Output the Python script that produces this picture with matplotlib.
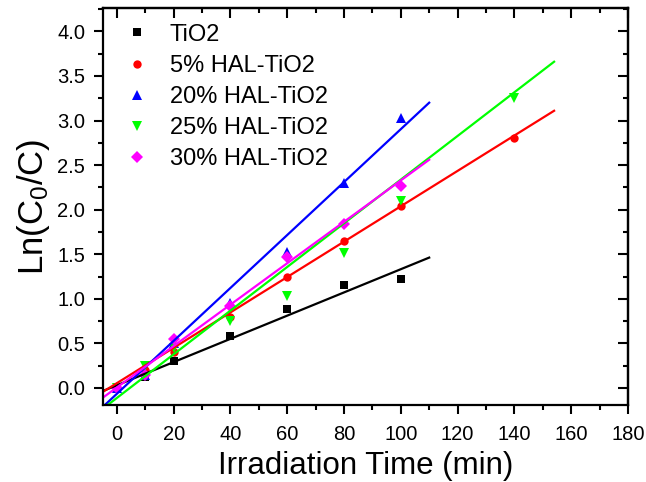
import numpy as np
import matplotlib
matplotlib.use("Agg")
import matplotlib.pyplot as plt
from matplotlib.ticker import MultipleLocator, FormatStrFormatter

plt.rcParams['font.family'] = ['Liberation Sans', 'DejaVu Sans']
plt.rcParams['mathtext.default'] = 'regular'

labels = ["TiO2", "5% HAL-TiO2", "20% HAL-TiO2", "25% HAL-TiO2", "30% HAL-TiO2"]
colors = ["#000000", "#FF0000", "#0000FF", "#00FF00", "#FF00FF"]
markers = ["s", "o", "^", "v", "D"]
marker_sizes = [5.5, 6, 7, 7, 6]

t_tio2 = [0, 10, 20, 40, 60, 80, 100]
y_tio2 = [0.0, 0.12, 0.30, 0.58, 0.88, 1.15, 1.22]
t_5 = [0, 10, 20, 40, 60, 80, 100, 140]
y_5 = [0.0, 0.20, 0.40, 0.80, 1.25, 1.65, 2.04, 2.80]
t_20 = [0, 10, 20, 40, 60, 80, 100]
y_20 = [0.0, 0.15, 0.50, 0.95, 1.52, 2.30, 3.03]
t_25 = [0, 10, 20, 40, 60, 80, 100, 140]
y_25 = [0.0, 0.25, 0.45, 0.75, 1.03, 1.51, 2.10, 3.25]
t_30 = [0, 10, 20, 40, 60, 80, 100]
y_30 = [0.0, 0.15, 0.55, 0.92, 1.47, 1.84, 2.27]

# linear fit lines as drawn in the reference (slope, intercept, end time)
fit_slopes = [0.01302, 0.01984, 0.02968, 0.02449, 0.02322]
fit_intercepts = [0.030, 0.054, -0.065, -0.112, 0.006]
fit_start = [-10, -10, -10, -10, -10]
fit_end = [110, 154, 110, 154, 110]

series = [(t_tio2, y_tio2), (t_5, y_5), (t_20, y_20), (t_25, y_25), (t_30, y_30)]

fig = plt.figure(figsize=(6.46, 4.82), dpi=100)
ax = fig.add_axes([0.159, 0.160, 0.813, 0.823])

for (t, y), lab, c, m, ms in zip(series, labels, colors, markers, marker_sizes):
    ax.plot(t, y, linestyle='none', marker=m, color=c, markersize=ms, label=lab,
            markeredgewidth=0)
for k, b, x0, x1, c in zip(fit_slopes, fit_intercepts, fit_start, fit_end, colors):
    xs = np.array([x0, x1])
    ax.plot(xs, k * xs + b, color=c, linewidth=1.6)

ax.set_xlim(-5, 180)
ax.set_ylim(-0.19, 4.26)

ax.xaxis.set_major_locator(MultipleLocator(20))
ax.xaxis.set_minor_locator(MultipleLocator(10))
ax.yaxis.set_major_locator(MultipleLocator(0.5))
ax.yaxis.set_minor_locator(MultipleLocator(0.25))
ax.yaxis.set_major_formatter(FormatStrFormatter('%.1f'))
ax.tick_params(which='both', direction='out', labelsize=14.5, width=1.5)
ax.tick_params(axis='x', pad=8)
ax.tick_params(axis='y', pad=6)
ax.tick_params(which='major', length=6.5)
ax.tick_params(which='minor', length=3.6)

# inward ticks on top and right
sx = ax.secondary_xaxis('top')
sx.xaxis.set_major_locator(MultipleLocator(20))
sx.xaxis.set_minor_locator(MultipleLocator(10))
sx.tick_params(which='both', direction='in', labeltop=False, width=1.5)
sx.tick_params(which='major', length=7)
sx.tick_params(which='minor', length=3.6)
sy = ax.secondary_yaxis('right')
sy.yaxis.set_major_locator(MultipleLocator(0.5))
sy.yaxis.set_minor_locator(MultipleLocator(0.25))
sy.tick_params(which='both', direction='in', labelright=False, width=1.5)
sy.tick_params(which='major', length=7)
sy.tick_params(which='minor', length=3.6)
for s in [sx, sy]:
    for spine in s.spines.values():
        spine.set_linewidth(1.6)

for spine in ax.spines.values():
    spine.set_linewidth(1.6)

ax.set_xlabel("Irradiation Time (min)", fontsize=22.5, labelpad=5)
ax.set_ylabel("Ln(C$_0$/C)", fontsize=25, labelpad=4)

leg = ax.legend(loc='upper left', frameon=False, fontsize=17, handletextpad=0.9,
                labelspacing=0.39, borderaxespad=0.0, handlelength=1.0,
                bbox_to_anchor=(0.024, 0.985))

fig.savefig("out.png", dpi=100)
